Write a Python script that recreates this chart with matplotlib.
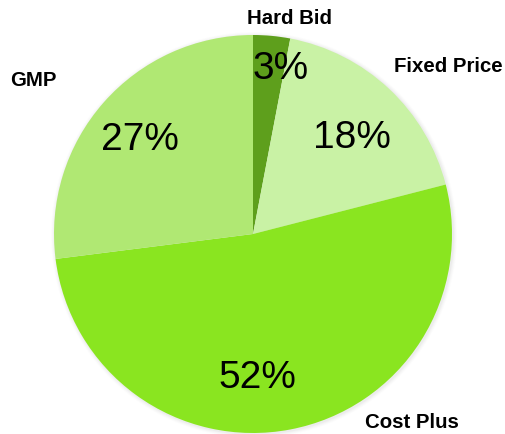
import matplotlib
matplotlib.use("Agg")
import matplotlib.pyplot as plt
from matplotlib.patches import Circle

categories = ["Hard Bid", "Fixed Price", "Cost Plus", "GMP"]
values = [3, 18, 52, 27]
colors = ["#5e9f1c", "#c9f2a5", "#8ae520", "#b0e873"]

W, H = 506, 434
fig = plt.figure(figsize=(W / 100, H / 100), dpi=100)
ax = fig.add_axes([0, 0, 1, 1])
ax.set_xlim(0, W)
ax.set_ylim(0, H)
ax.set_aspect("equal")
ax.axis("off")

cx, cy, r = 253, H - 234, 199

# soft shadow
for i, a in enumerate([0.05, 0.04, 0.03, 0.02]):
    ax.add_patch(Circle((cx + 1, cy - 1), r + 1 + i, color="#808080", alpha=a, lw=0, zorder=0))

ax.pie(values, colors=colors, startangle=90, counterclock=False,
       center=(cx, cy), radius=r, frame=True,
       wedgeprops=dict(linewidth=0, edgecolor="none", zorder=1))
ax.set_xlim(0, W)
ax.set_ylim(0, H)
ax.axis("off")

font = "Liberation Sans"
label_pos = [(290, 19), (448, 67), (412, 422), (33, 80)]
pct_pos = [(281, 69), (352, 138), (257, 378), (140, 140)]

for cat, v, (lx, ly), (px, py) in zip(categories, values, label_pos, pct_pos):
    ax.text(lx, H - ly, cat, ha="center", va="center", fontsize=14.7,
            fontweight="bold", family=font, color="black")
    ax.text(px, H - py, f"{v}%", ha="center", va="center", fontsize=28,
            family=font, color="black")

fig.savefig("out.png", dpi=100)
